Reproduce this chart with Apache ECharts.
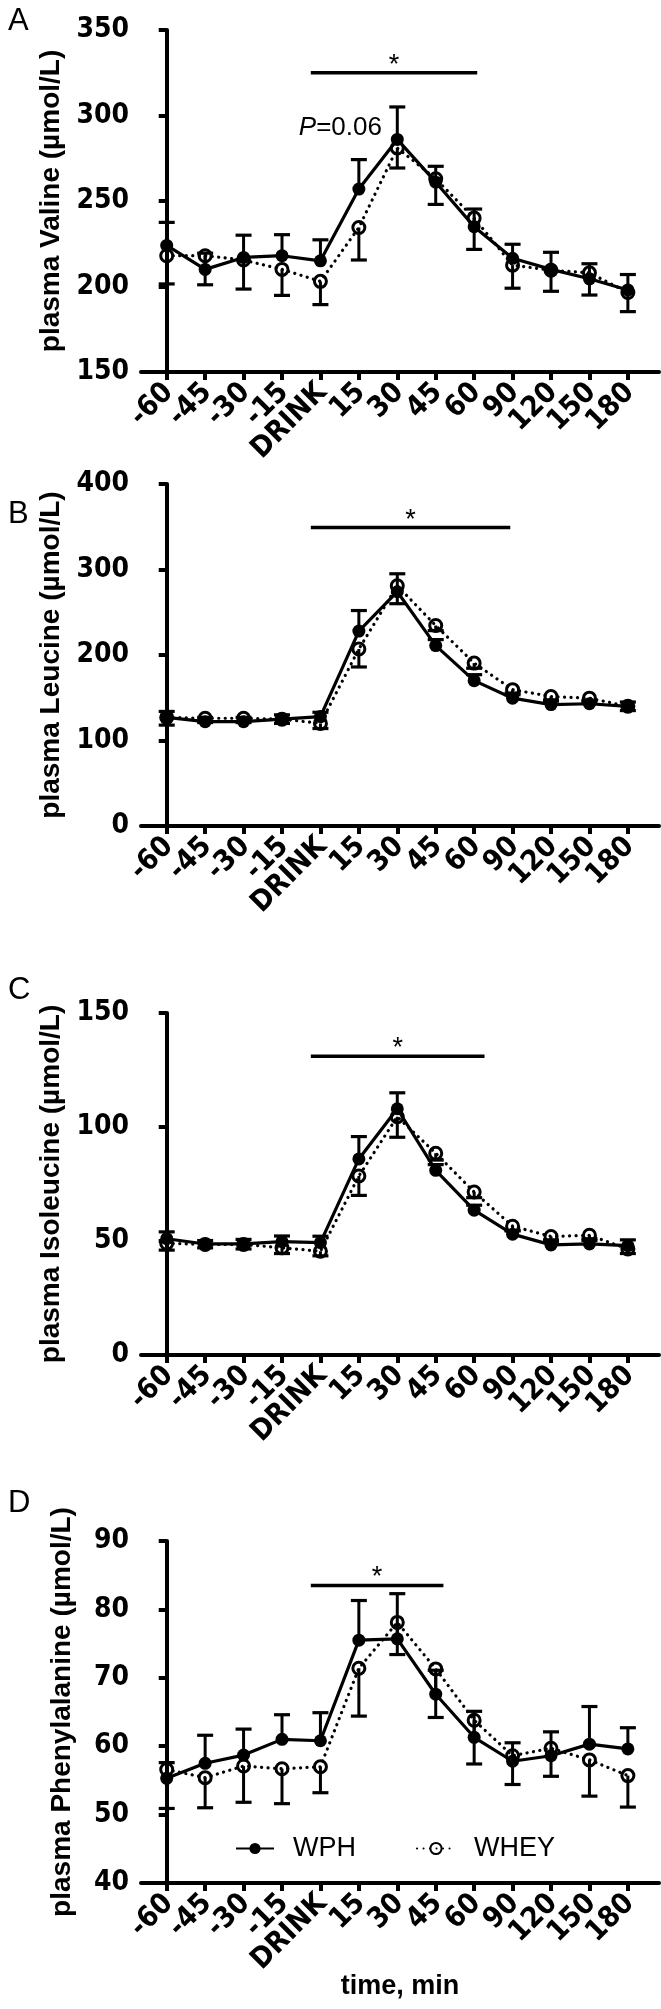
<!DOCTYPE html>
<html><head><meta charset="utf-8">
<script src="https://cdn.jsdelivr.net/npm/echarts@6/dist/echarts.min.js"></script>
<style>html,body{margin:0;padding:0;background:#fff}#c{width:661px;height:2009px}</style>
</head><body><div id="c"></div>
<script>
// ---- data ----
const categories = ['-60','-45','-30','-15','DRINK','15','30','45','60','90','120','150','180'];

const valineWPH     = [224, 210, 217, 218, 215, 257, 286, 261, 235, 216.5, 210, 204.5, 198];
const valineWPHsem  = [13.5, 9.5, 13, 12.3, 12.3, 17.2, 19, 9.3, 10.3, 8.2, 10, 8.8, 9];
const valineWHEY    = [218, 218, 215.5, 210, 203, 234.5, 281, 263, 240, 212.5, 209.5, 208, 196.5];
const valineWHEYsem = [16.5, 17, 17, 15.2, 13.6, 19, 11.7, 15, 18.3, 13.5, 12.3, 13, 11.2];

const leucineWPH     = [127, 122, 122, 125, 128, 228, 274, 211, 170, 149.5, 142, 143, 140];
const leucineWPHsem  = [7, 5, 5, 5, 5, 24, 21, 7, 7, 4, 4, 4, 5];
const leucineWHEY    = [127, 126, 126, 125, 120, 207, 281, 234.5, 190.5, 159.5, 151.5, 149.5, 140];
const leucineWHEYsem = [9, 5, 5, 5, 6, 21, 21, 6, 6, 4, 4, 4, 5];

const isoleucineWPH     = [51, 48.7, 48.7, 49.7, 49.3, 86, 108, 81, 63.5, 53, 48.3, 48.7, 48];
const isoleucineWPHsem  = [3, 1.5, 2, 2.5, 2.8, 9.8, 7, 2.5, 2.2, 1.5, 1.5, 1.5, 2.5];
const isoleucineWHEY    = [49, 48.5, 48.5, 47, 45.5, 78.5, 104.5, 88.5, 71.5, 56.5, 52, 52.5, 46.5];
const isoleucineWHEYsem = [3, 1.5, 2, 2.5, 2, 8.5, 9, 3, 2.5, 2, 1.5, 1.5, 2];

const pheWPH     = [55.3, 57.5, 58.7, 61.0, 60.8, 75.5, 75.7, 67.6, 61.3, 57.8, 58.6, 60.3, 59.6];
const pheWPHsem  = [2.3, 4.1, 3.8, 3.6, 4.1, 5.8, 6.6, 3.5, 3.8, 2.7, 3.5, 5.5, 3.1];
const pheWHEY    = [56.6, 55.4, 57.1, 56.7, 57.0, 71.4, 78.1, 71.3, 63.8, 58.6, 59.7, 58.0, 55.7];
const pheWHEYsem = [5.7, 4.4, 5.3, 5.1, 3.8, 7.0, 4.7, 7.1, 6.4, 4.2, 4.1, 5.3, 4.6];

// y axis ranges [min, max, interval]
const yRangeA = [150, 350, 50];
const yRangeB = [0, 400, 100];
const yRangeC = [0, 150, 50];
const yRangeD = [40, 90, 10];

// significance bars [startIndex, endIndex, yValue]
const sigA = [3.75, 8.08, 325];
const sigB = [3.75, 8.94, 349];
const sigC = [3.75, 8.27, 131];
const sigD = [3.75, 7.2, 83.5];
const pNoteA = [5.6, 293, 'P', '=0.06'];

const yTitles = ['plasma Valine (\u00b5mol/L)', 'plasma Leucine (\u00b5mol/L)',
                 'plasma Isoleucine (\u00b5mol/L)', 'plasma Phenylalanine (\u00b5mol/L)'];
const panelLetters = ['A', 'B', 'C', 'D'];

// ---- layout ----
const NARROW = "'Liberation Sans Narrow','DejaVu Sans Condensed','Liberation Sans',Arial,sans-serif";
const SANS = "'Liberation Sans',Arial,Helvetica,sans-serif";
const grids = [
  {left: 141, width: 518, top: 30, height: 342},
  {left: 141, width: 518, top: 484, height: 342},
  {left: 141, width: 518, top: 1013, height: 342},
  {left: 141, width: 518, top: 1541, height: 342}
];
const letterY = [22, 515, 991, 1504];

const panels = [
  {wph: valineWPH, wphE: valineWPHsem, whey: valineWHEY, wheyE: valineWHEYsem, yr: yRangeA, sig: sigA, note: pNoteA},
  {wph: leucineWPH, wphE: leucineWPHsem, whey: leucineWHEY, wheyE: leucineWHEYsem, yr: yRangeB, sig: sigB},
  {wph: isoleucineWPH, wphE: isoleucineWPHsem, whey: isoleucineWHEY, wheyE: isoleucineWHEYsem, yr: yRangeC, sig: sigC},
  {wph: pheWPH, wphE: pheWPHsem, whey: pheWHEY, wheyE: pheWHEYsem, yr: yRangeD, sig: sigD}
];

const idx = categories.map((c, i) => i);
const xAxes = [], yAxes = [], series = [];

function errRender(params, api) {
  const x = api.value(0), m = api.value(1), e = api.value(2), d = api.value(3);
  const p0 = api.coord([x, m]);
  const p1 = api.coord([x, m + d * e]);
  const hw = 8;
  return {type: 'group', children: [
    {type: 'line', shape: {x1: p0[0], y1: p0[1], x2: p1[0], y2: p1[1]}, style: {stroke: '#000', lineWidth: 3}},
    {type: 'line', shape: {x1: p1[0] - hw, y1: p1[1], x2: p1[0] + hw, y2: p1[1]}, style: {stroke: '#000', lineWidth: 3.2}}
  ]};
}

// rotated category labels under the x axis (all shown, none auto-hidden)
function xLabelRender(params, api) {
  const i = Math.round(api.value(0));
  const pt = api.coord([i, api.value(1)]);
  return {type: 'text', x: pt[0] + 2, y: pt[1] + 16, rotation: Math.PI / 4,
    style: {text: categories[i], fill: '#000', font: 'bold 29px ' + NARROW,
      align: 'right', verticalAlign: 'middle'}};
}

panels.forEach((p, k) => {
  xAxes.push({
    type: 'value', gridIndex: k, min: -0.669, max: 12.81,
    axisLine: {show: true, onZero: false, lineStyle: {color: '#000', width: 4}},
    axisTick: {show: true, customValues: idx, length: 8, lineStyle: {color: '#000', width: 4}},
    axisLabel: {show: false},
    splitLine: {show: false},
    name: k === 3 ? 'time, min' : '', nameLocation: 'middle', nameGap: 90,
    nameTextStyle: {color: '#000', fontSize: 27, fontWeight: 'bold', fontFamily: SANS}
  });
  yAxes.push({
    type: 'value', gridIndex: k, min: p.yr[0], max: p.yr[1], interval: p.yr[2],
    axisLine: {show: true, lineStyle: {color: '#000', width: 4}},
    axisTick: {show: true, length: 8, lineStyle: {color: '#000', width: 4}},
    axisLabel: {margin: 12, color: '#000', fontSize: 28, fontWeight: 'bold', fontFamily: NARROW,
      showMinLabel: true, showMaxLabel: true},
    splitLine: {show: false},
    name: yTitles[k], nameLocation: 'middle', nameGap: 65,
    nameTextStyle: {color: '#000', fontSize: 28, fontWeight: 'bold', fontFamily: SANS}
  });
  // x tick labels
  series.push({
    type: 'custom', xAxisIndex: k, yAxisIndex: k, z: 6, silent: true, clip: false,
    renderItem: xLabelRender, encode: {x: 0, y: 1},
    data: idx.map(i => [i, p.yr[0]])
  });
  // error bars: WPH upward, WHEY downward
  series.push({
    type: 'custom', xAxisIndex: k, yAxisIndex: k, z: 1, silent: true,
    renderItem: errRender, encode: {x: 0, y: 1},
    data: p.wph.map((v, i) => [i, v, p.wphE[i], 1])
  });
  series.push({
    type: 'custom', xAxisIndex: k, yAxisIndex: k, z: 1, silent: true,
    renderItem: errRender, encode: {x: 0, y: 1},
    data: p.whey.map((v, i) => [i, v, p.wheyE[i], -1])
  });
  series.push({
    name: 'WPH', type: 'line', xAxisIndex: k, yAxisIndex: k, z: 3,
    data: p.wph.map((v, i) => [i, v]),
    symbol: 'circle', symbolSize: 13, showAllSymbol: true,
    itemStyle: {color: '#000'},
    lineStyle: {color: '#000', width: 3.2}
  });
  series.push({
    name: 'WHEY', type: 'line', xAxisIndex: k, yAxisIndex: k, z: 4,
    data: p.whey.map((v, i) => [i, v]),
    symbol: 'circle', symbolSize: 12, showAllSymbol: true,
    itemStyle: {color: 'rgba(255,255,255,0)', borderColor: '#000', borderWidth: 3},
    lineStyle: {color: '#000', width: 3.2, type: [0.1, 6.4], cap: 'round'}
  });
  // significance annotation
  const note = p.note;
  series.push({
    type: 'custom', xAxisIndex: k, yAxisIndex: k, z: 5, silent: true, encode: {x: 0, y: 2},
    data: [[p.sig[0], p.sig[1], p.sig[2]]],
    renderItem: function (params, api) {
      const a = api.coord([api.value(0), api.value(2)]);
      const b = api.coord([api.value(1), api.value(2)]);
      const ch = [
        {type: 'line', shape: {x1: a[0], y1: a[1], x2: b[0], y2: b[1]}, style: {stroke: '#000', lineWidth: 3.5}},
        {type: 'text', x: (a[0] + b[0]) / 2, y: a[1] + 6,
          style: {text: '*', fill: '#000', font: '27px ' + SANS, align: 'center', verticalAlign: 'bottom'}}
      ];
      if (note) {
        const q = api.coord([note[0], note[1]]);
        ch.push({type: 'text', x: q[0], y: q[1], style: {
          text: '{i|' + note[2] + '}' + note[3], fill: '#000', font: '26px ' + SANS,
          align: 'right', verticalAlign: 'middle',
          rich: {i: {fontStyle: 'italic', fontSize: 26, fontFamily: SANS, fill: '#000'}}
        }});
      }
      return {type: 'group', children: ch};
    }
  });
});

const chart = echarts.init(document.getElementById('c'), null, {renderer: 'canvas'});
chart.setOption({
  animation: false,
  backgroundColor: '#fff',
  grid: grids,
  xAxis: xAxes,
  yAxis: yAxes,
  series: series,
  legend: {
    data: ['WPH', 'WHEY'], left: 230, top: 1830, orient: 'horizontal',
    itemWidth: 38, itemHeight: 14, itemGap: 60, selectedMode: false,
    textStyle: {color: '#000', fontSize: 27, fontFamily: SANS, padding: [0, 0, 0, 14]}
  },
  graphic: panelLetters.map((t, k) => ({
    type: 'text', left: 8, top: letterY[k] - 16,
    style: {text: t, fill: '#000', font: '31px ' + SANS}
  }))
});
</script>
</body></html>
